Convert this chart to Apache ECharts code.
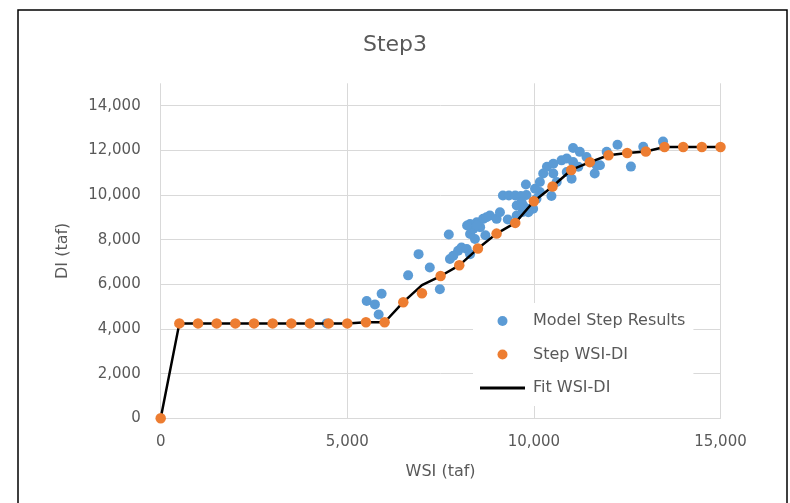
<!DOCTYPE html>
<html>
<head>
<meta charset="utf-8">
<script src="https://cdn.jsdelivr.net/npm/echarts@6/dist/echarts.min.js"></script>
<style>
html,body{margin:0;padding:0;background:#fff;}
#chart{width:790px;height:503px;}
</style>
</head>
<body>
<div id="chart"></div>
<script>
// ---- data ----
const chartTitle = 'Step3';
const xAxisName = 'WSI (taf)';
const yAxisName = 'DI (taf)';
const xTicks = [0, 5000, 10000, 15000];
const yTicks = [0, 2000, 4000, 6000, 8000, 10000, 12000, 14000];

// Step WSI-DI (orange) and Fit WSI-DI (black line)
const stepX = [0, 500, 1000, 1500, 2000, 2500, 3000, 3500, 4000, 4500, 5000, 5500, 6000, 6500, 7000, 7500, 8000, 8500, 9000, 9500, 10000, 10500, 11000, 11500, 12000, 12500, 13000, 13500, 14000, 14500, 15000];
const stepY = [0, 4250, 4250, 4250, 4250, 4250, 4250, 4250, 4250, 4250, 4250, 4300, 4300, 5200, 5600, 6370, 6850, 7600, 8270, 8750, 9720, 10380, 11120, 11470, 11780, 11880, 11950, 12150, 12150, 12150, 12150];
const fitY  = [0, 4250, 4250, 4250, 4250, 4250, 4250, 4250, 4250, 4250, 4250, 4300, 4300, 5200, 5960, 6370, 6850, 7600, 8270, 8750, 9720, 10380, 11120, 11470, 11780, 11880, 11950, 12150, 12150, 12150, 12150];

// Model Step Results (blue) [WSI, DI]
const modelPoints = [
  [4450, 4250], [5520, 5250], [5740, 5100], [5920, 5580], [5840, 4650],
  [6630, 6400], [6910, 7350], [7210, 6750], [7480, 5780], [7720, 8230],
  [7750, 7130], [7970, 7500], [7840, 7280], [8060, 7650], [8200, 7580],
  [8290, 7350], [8420, 8030], [8290, 8250], [8375, 8480], [8290, 8700],
  [8470, 8780], [8640, 8930], [8820, 9080], [9000, 8930], [9090, 9230],
  [8560, 8560], [8700, 8200], [8210, 8630], [8470, 8630], [8730, 9000],
  [9170, 9980], [9330, 9980], [9500, 9980], [9650, 9950], [9800, 10000],
  [9786, 10470], [9893, 9380], [9700, 9240], [9540, 9080], [9540, 9530],
  [9670, 9680], [9980, 9380], [9713, 9530], [9850, 9230], [10070, 9830],
  [10160, 10130], [10030, 10280], [10160, 10580], [10250, 10960], [10350, 11260],
  [10520, 11400], [10520, 10960], [10610, 10580], [10740, 11550], [10880, 11630],
  [10880, 11030], [11010, 10730], [11050, 11480], [11050, 12100], [11190, 11260],
  [11230, 11930], [11410, 11700], [11680, 11330], [11630, 10960], [11770, 11330],
  [11950, 11930], [12240, 12250], [12600, 11270], [12930, 12160], [13460, 12390],
  [9300, 8900], [10470, 9950]
];

// ---- chart ----
const F = 'DejaVu Sans';
const TXT = '#595959';
const GRID = '#d9d9d9';
const fmt = v => Number(v).toLocaleString('en-US');

const chart = echarts.init(document.getElementById('chart'));
chart.setOption({
  animation: false,
  backgroundColor: '#fff',
  title: {
    text: chartTitle, left: 'center', top: 29,
    textStyle: { fontFamily: F, fontSize: 22, fontWeight: 'normal', color: TXT }
  },
  graphic: [{
    type: 'rect', silent: true, z: -1,
    shape: { x: 18, y: 10, width: 769, height: 520 },
    style: { fill: 'none', stroke: '#000', lineWidth: 1.5 }
  }],
  grid: { left: 160.7, right: 69.5, top: 83.3, bottom: 84.7 },
  legend: {
    orient: 'vertical', left: 473, top: 303,
    padding: [10, 8, 10, 7], backgroundColor: '#fff',
    itemWidth: 45, itemHeight: 10, itemGap: 17.5,
    selectedMode: false,
    textStyle: { fontFamily: F, fontSize: 16, color: TXT, padding: [0, 0, 0, 3] },
    data: [
      { name: 'Model Step Results', icon: 'circle' },
      { name: 'Step WSI-DI', icon: 'circle' },
      { name: 'Fit WSI-DI', icon: 'path://M0,0H45V3H0Z' }
    ]
  },
  xAxis: {
    type: 'value', min: xTicks[0], max: xTicks[xTicks.length - 1],
    interval: xTicks[1] - xTicks[0],
    name: xAxisName, nameLocation: 'middle', nameGap: 46,
    nameTextStyle: { fontFamily: F, fontSize: 16, color: TXT },
    axisLine: { show: true, lineStyle: { color: GRID, width: 1 } },
    axisTick: { show: false },
    axisLabel: { margin: 16, fontFamily: F, fontSize: 15, color: TXT, formatter: fmt },
    splitLine: { show: true, lineStyle: { color: GRID, width: 1 } }
  },
  yAxis: {
    type: 'value', min: yTicks[0], max: 15000,
    interval: yTicks[1] - yTicks[0],
    name: yAxisName, nameLocation: 'middle', nameGap: 90,
    nameTextStyle: { fontFamily: F, fontSize: 16, color: TXT },
    axisLine: { show: false },
    axisTick: { show: false },
    axisLabel: { margin: 20, fontFamily: F, fontSize: 15, color: TXT, formatter: fmt, showMaxLabel: false },
    splitLine: { show: true, showMaxLine: false, lineStyle: { color: GRID, width: 1 } }
  },
  series: [
    {
      name: 'Model Step Results', type: 'scatter', z: 2,
      symbol: 'circle', symbolSize: 10,
      itemStyle: { color: '#5b9bd5', opacity: 1 },
      data: modelPoints
    },
    {
      name: 'Fit WSI-DI', type: 'line', z: 3,
      symbol: 'none', showSymbol: false,
      lineStyle: { color: '#000', width: 2.5 },
      itemStyle: { color: '#000' },
      data: stepX.map((x, i) => [x, fitY[i]])
    },
    {
      name: 'Step WSI-DI', type: 'scatter', z: 4,
      symbol: 'circle', symbolSize: 10.5,
      itemStyle: { color: '#ed7d31', opacity: 1 },
      data: stepX.map((x, i) => [x, stepY[i]])
    }
  ]
});
</script>
</body>
</html>
